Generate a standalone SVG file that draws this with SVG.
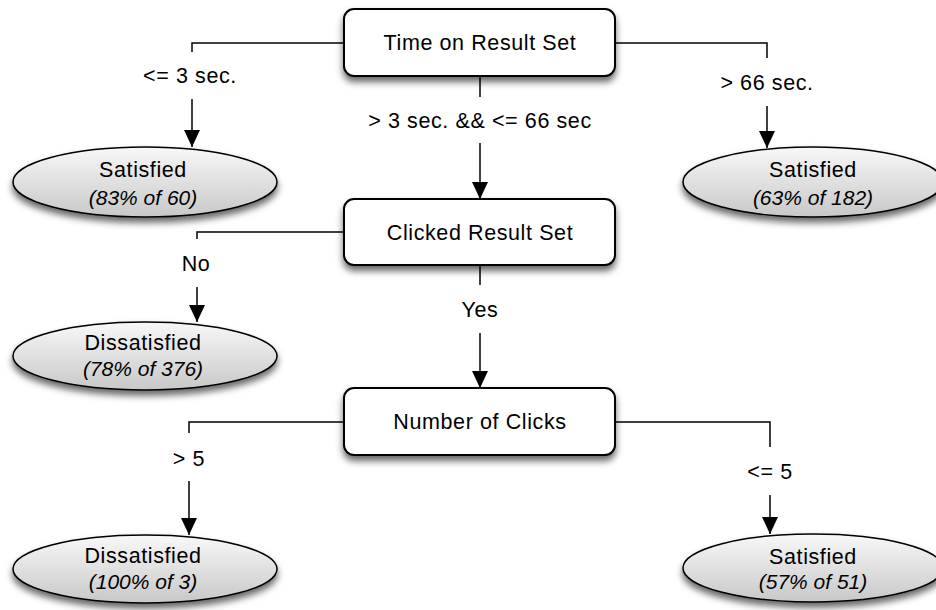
<svg xmlns="http://www.w3.org/2000/svg" width="936" height="610" viewBox="0 0 936 610">
<defs>
<style>
text{font-family:"Liberation Sans",Arial,Helvetica,sans-serif;font-size:21.5px;letter-spacing:0.6px;fill:#000;text-anchor:middle}
.it{font-style:italic;font-size:21px;letter-spacing:0}
.box{fill:#fff;stroke:#000;stroke-width:2;filter:url(#sh)}
.ell{fill:url(#g);stroke:#000;stroke-width:1.5;filter:url(#sh)}
.ln{fill:none;stroke:#000;stroke-width:1.5}
.ar{fill:none;stroke:#000;stroke-width:1.5;marker-end:url(#ah)}
</style>
<linearGradient id="g" x1="0" y1="0" x2="0" y2="1">
<stop offset="0" stop-color="#f8f8f8"/>
<stop offset="1" stop-color="#c8c8c8"/>
</linearGradient>
<filter id="sh" x="-20%" y="-30%" width="140%" height="170%">
<feDropShadow dx="0" dy="5" stdDeviation="3.5" flood-color="#000" flood-opacity="0.6"/>
</filter>
<marker id="ah" markerUnits="userSpaceOnUse" markerWidth="18" markerHeight="18" refX="17" refY="8" orient="auto">
<path d="M0,0 L17,8 L0,16 z" fill="#000"/>
</marker>
</defs>
<rect width="936" height="610" fill="#fff"/>

<g id="connectors">
<path class="ln" d="M344,43 H192 V52"/>
<path class="ar" d="M192,99 V147"/>
<path class="ln" d="M615,43 H767 V58"/>
<path class="ar" d="M767,106 V148"/>
<path class="ln" d="M480,76 V97"/>
<path class="ar" d="M480,143 V199"/>
<path class="ln" d="M344,232 H197 V239"/>
<path class="ar" d="M197,287 V322"/>
<path class="ln" d="M480,265 V285"/>
<path class="ar" d="M480,333 V388"/>
<path class="ln" d="M344,422 H189 V433"/>
<path class="ar" d="M189,481 V535"/>
<path class="ln" d="M615,422 H770 V447"/>
<path class="ar" d="M770,495 V534"/>
</g>

<g id="labels">
<text x="190" y="83">&lt;= 3 sec.</text>
<text x="767" y="90">&gt; 66 sec.</text>
<text x="480" y="128">&gt; 3 sec. &amp;&amp; &lt;= 66 sec</text>
<text x="196" y="271">No</text>
<text x="480" y="317">Yes</text>
<text x="189" y="466">&gt; 5</text>
<text x="770" y="479">&lt;= 5</text>
</g>

<g id="time-on-result-set">
<rect class="box" x="344" y="9" width="271" height="67" rx="10"/>
<text x="480" y="50">Time on Result Set</text>
</g>
<g id="clicked-result-set">
<rect class="box" x="344" y="199" width="271" height="66" rx="10"/>
<text x="480" y="240">Clicked Result Set</text>
</g>
<g id="number-of-clicks">
<rect class="box" x="344" y="388" width="271" height="67" rx="10"/>
<text x="480" y="429">Number of Clicks</text>
</g>

<g id="leaf-satisfied-1">
<ellipse class="ell" cx="145" cy="182" rx="132" ry="35"/>
<text x="143" y="177">Satisfied</text>
<text class="it" x="143" y="205">(83% of 60)</text>
</g>
<g id="leaf-satisfied-2">
<ellipse class="ell" cx="813" cy="182" rx="130" ry="35"/>
<text x="813" y="177">Satisfied</text>
<text class="it" x="813" y="205">(63% of 182)</text>
</g>
<g id="leaf-dissatisfied-1">
<ellipse class="ell" cx="145" cy="356" rx="132" ry="34"/>
<text x="143" y="350">Dissatisfied</text>
<text class="it" x="143" y="376">(78% of 376)</text>
</g>
<g id="leaf-dissatisfied-2">
<ellipse class="ell" cx="145" cy="569" rx="132" ry="34"/>
<text x="143" y="563">Dissatisfied</text>
<text class="it" x="143" y="589">(100% of 3)</text>
</g>
<g id="leaf-satisfied-3">
<ellipse class="ell" cx="813" cy="568" rx="130" ry="34"/>
<text x="813" y="564">Satisfied</text>
<text class="it" x="813" y="589">(57% of 51)</text>
</g>
</svg>
